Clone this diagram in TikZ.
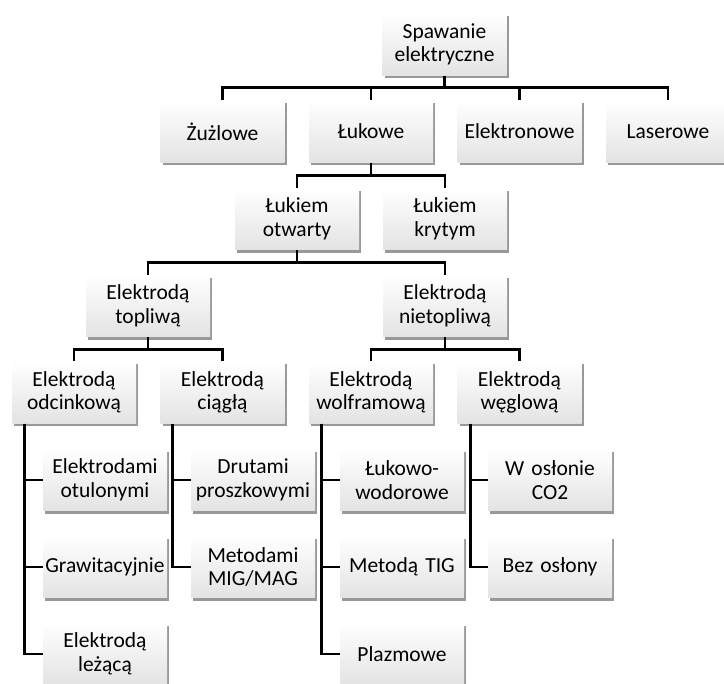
\documentclass[tikz,border=0pt]{standalone}
\usepackage{fontspec}
\setmainfont{Carlito}
\usetikzlibrary{shadows}
\begin{document}
\begin{tikzpicture}[x=1pt,y=-1pt,
  box/.style={minimum width=124pt, minimum height=62pt, text width=122pt, inner sep=0pt, align=center,
    top color=white, bottom color=gray!22, draw=none,
    font=\fontsize{21.5}{23.5}\selectfont,
    drop shadow={shadow xshift=2pt, shadow yshift=-3pt, fill=black, opacity=0.4}},
  conn/.style={line width=2.8pt, draw=black}]
\useasboundingbox (0,0) rectangle (724,684);
% level 0
\node[box] (root) at (444.5,44.5) {Spawanie\\elektryczne};
% level 1
\node[box] (zuz) at (222.5,131.5) {Żużlowe};
\node[box] (luk) at (371,131.5) {Łukowe};
\node[box] (ele) at (519.5,131.5) {Elektronowe};
\node[box] (las) at (668,131.5) {Laserowe};
% level 2
\node[box] (otw) at (297,219) {Łukiem\\otwarty};
\node[box] (kry) at (445,219) {Łukiem\\krytym};
% level 3
\node[box] (top) at (148,306) {Elektrodą\\topliwą};
\node[box] (nie) at (445,306) {Elektrodą\\nietopliwą};
% level 4
\node[box] (odc) at (74,392.5) {Elektrodą\\odcinkową};
\node[box] (cia) at (222.5,392.5) {Elektrodą\\ciągłą};
\node[box] (wol) at (371,392.5) {Elektrodą\\wolframową};
\node[box] (weg) at (519.5,392.5) {Elektrodą\\węglową};
% level 5
\node[box] (otu) at (105,480) {Elektrodami\\otulonymi};
\node[box] (gra) at (105,567) {Grawitacyjnie};
\node[box] (lez) at (105,654) {Elektrodą\\leżącą};
\node[box] (dru) at (253,480) {Drutami\\proszkowymi};
\node[box] (mig) at (253,567) {Metodami\\MIG/MAG};
\node[box] (wod) at (402,480) {Łukowo-\\wodorowe};
\node[box] (tig) at (402,567) {Metodą TIG};
\node[box] (pla) at (402,654) {Plazmowe};
\node[box] (co2) at (550,480) {W osłonie\\CO2};
\node[box] (bez) at (550,567) {Bez osłony};
% connectors
\foreach \c in {zuz,luk,ele,las} \draw[conn] (root.south) -- ++(0,12) -| (\c.north);
\foreach \c in {otw,kry} \draw[conn] (luk.south) -- ++(0,13) -| (\c.north);
\foreach \c in {top,nie} \draw[conn] (otw.south) -- ++(0,12) -| (\c.north);
\foreach \c in {odc,cia} \draw[conn] (top.south) -- ++(0,12) -| (\c.north);
\foreach \c in {wol,weg} \draw[conn] (nie.south) -- ++(0,12) -| (\c.north);
\foreach \c in {otu,gra,lez} \draw[conn] ([xshift=13pt]odc.south west) |- (\c.west);
\foreach \c in {dru,mig} \draw[conn] ([xshift=12pt]cia.south west) |- (\c.west);
\foreach \c in {wod,tig,pla} \draw[conn] ([xshift=13pt]wol.south west) |- (\c.west);
\foreach \c in {co2,bez} \draw[conn] ([xshift=13pt]weg.south west) |- (\c.west);
\end{tikzpicture}
\end{document}
